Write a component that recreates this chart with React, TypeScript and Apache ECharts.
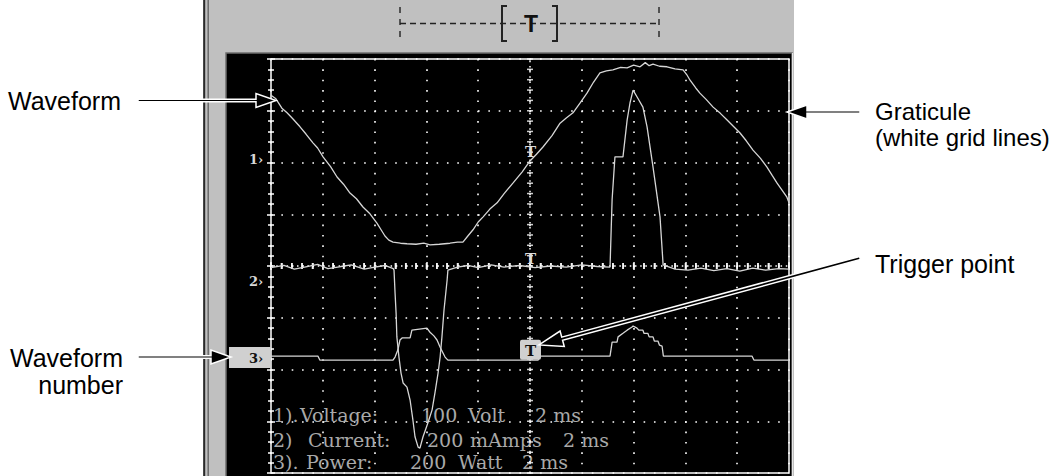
import React, { useEffect, useRef } from 'react';
import * as echarts from 'echarts';

// ---- data (x: time in ms, 2 ms/div; y: vertical divisions, 0 = centre) ----
const voltageTrace: [number, number][] = [
  [0, 3.3], [0.19, 3.23], [0.42, 3.05], [0.62, 2.96], [0.85, 2.84], [1.12, 2.69], [1.35, 2.55], [1.62, 2.38],
  [1.8, 2.28], [2.01, 2.11], [2.3, 1.92], [2.55, 1.72], [2.8, 1.58], [3.05, 1.41], [3.3, 1.3], [3.55, 1.14],
  [3.8, 1.02], [4.09, 0.83], [4.25, 0.7], [4.4, 0.58], [4.55, 0.5], [4.71, 0.46], [5.0, 0.44], [5.25, 0.43],
  [5.6, 0.42], [5.9, 0.44], [6.14, 0.41], [6.5, 0.42], [6.91, 0.44], [7.2, 0.46], [7.41, 0.46], [7.6, 0.58],
  [7.8, 0.7], [8.0, 0.85], [8.19, 0.95], [8.45, 1.1], [8.73, 1.22], [9.0, 1.4], [9.34, 1.6], [9.7, 1.82],
  [10.0, 2.03], [10.25, 2.16], [10.5, 2.3], [10.85, 2.52], [11.16, 2.76], [11.4, 2.86], [11.66, 2.96],
  [11.95, 3.16], [12.2, 3.34], [12.45, 3.55], [12.7, 3.73], [12.95, 3.77], [13.2, 3.79], [13.5, 3.84],
  [13.75, 3.83], [14.0, 3.88], [14.25, 3.85], [14.45, 3.93], [14.6, 3.87], [14.75, 3.9], [15.0, 3.86],
  [15.29, 3.85], [15.6, 3.81], [15.91, 3.79], [16.05, 3.7], [16.18, 3.59], [16.4, 3.44], [16.56, 3.34],
  [16.8, 3.22], [17.07, 3.07], [17.35, 2.95], [17.61, 2.82], [17.85, 2.7], [18.11, 2.57], [18.35, 2.42],
  [18.61, 2.24], [18.9, 2.08], [19.15, 1.91], [19.35, 1.75], [19.54, 1.6], [19.75, 1.45], [19.92, 1.33], [20, 1.22],
];

const currentTrace: [number, number][] = [
  [0, -0.03], [0.5, 0.01], [0.9, -0.06], [1.3, -0.02], [1.8, 0.03], [2.2, -0.05], [2.7, -0.01], [3.1, 0.02],
  [3.6, -0.06], [4.0, -0.02], [4.4, 0.01], [4.72, -0.05],
  [4.75, -0.08], [4.79, -0.52], [4.83, -0.91], [4.86, -1.37], [4.94, -1.76], [5.02, -2.07], [5.1, -2.26],
  [5.25, -2.34], [5.37, -2.59], [5.48, -2.98], [5.56, -3.3], [5.68, -3.5], [5.75, -3.52], [5.87, -3.3],
  [6.06, -3.03], [6.22, -2.78], [6.33, -2.45], [6.45, -2.07], [6.53, -1.76], [6.6, -1.37], [6.68, -0.85],
  [6.8, -0.27], [6.83, -0.08],
  [7.2, -0.02], [7.6, 0.01], [8.0, -0.03], [8.5, 0.02], [9.0, -0.02], [9.6, 0.01], [10.2, -0.03], [10.8, 0.0],
  [11.4, -0.02], [12.0, 0.02], [12.6, -0.01], [13.09, -0.02],
  [13.17, 1.28], [13.28, 2.11], [13.59, 2.11], [13.75, 2.82], [13.86, 3.15], [13.98, 3.4], [14.13, 3.27],
  [14.36, 3.07], [14.52, 2.69], [14.75, 1.91], [15.02, 0.95], [15.14, 0.02],
  [15.6, -0.06], [16.1, -0.08], [16.6, -0.04], [17.1, -0.09], [17.6, -0.05], [18.1, -0.1], [18.6, -0.04],
  [19.1, -0.08], [19.6, -0.05], [20, -0.06],
];

const powerTrace: [number, number][] = [
  [0, -1.74], [1.81, -1.74], [1.89, -1.82], [4.71, -1.82], [4.79, -1.76], [4.9, -1.62], [4.98, -1.43],
  [5.06, -1.39], [5.37, -1.39], [5.44, -1.24], [6.02, -1.2], [6.14, -1.28], [6.29, -1.35], [6.41, -1.43],
  [6.53, -1.57], [6.72, -1.76], [6.83, -1.82], [10.31, -1.82], [10.39, -1.74], [13.09, -1.74], [13.17, -1.47],
  [13.36, -1.47], [13.4, -1.37], [13.59, -1.3], [13.75, -1.24], [13.94, -1.18], [13.98, -1.16], [14.13, -1.2],
  [14.2, -1.24], [14.36, -1.24], [14.4, -1.3], [14.55, -1.3], [14.6, -1.37], [14.75, -1.37], [14.8, -1.45],
  [14.94, -1.45], [15.0, -1.53], [15.1, -1.55], [15.15, -1.74], [18.57, -1.74], [18.65, -1.82], [20, -1.82],
];

// trigger marks: [time, divisions, boxed]
const triggerMarks: [number, number, number][] = [[10, 2.22, 0], [10, 0.15, 0], [10, -1.62, 1]];
const channelLabels = ['1›', '2›', '3›'];
const readoutRows = [
  ['1).', 'Voltage:', '100', 'Volt', '2 ms'],
  ['2)', 'Current:', '200', 'mAmps', '2 ms'],
  ['3).', 'Power:', '200', 'Watt', '2 ms'],
];
const annotationTexts = ['Waveform', 'Graticule\n(white grid lines)', 'Trigger point', 'Waveform\nnumber'];

// ---- layout ----
const readoutX = [
  [273, 300, 421, 468, 535],
  [273, 308, 427, 470, 563],
  [273, 306, 410, 458, 522],
];
const readoutY = [415, 440, 462];

function arrow(x1: number, y1: number, x2: number, y2: number, sw = 1.3, hl = 20, hw = 7) {
  const dx = x2 - x1, dy = y2 - y1;
  const L = Math.hypot(dx, dy);
  const ux = dx / L, uy = dy / L, nx = -uy, ny = ux;
  const bx = x2 - ux * hl, by = y2 - uy * hl;
  return {
    type: 'polygon',
    z: 100,
    shape: {
      points: [
        [x1 + nx * sw, y1 + ny * sw], [bx + nx * sw, by + ny * sw], [bx + nx * hw, by + ny * hw], [x2, y2],
        [bx - nx * hw, by - ny * hw], [bx - nx * sw, by - ny * sw], [x1 - nx * sw, y1 - ny * sw],
      ],
    },
    style: { fill: '#000', stroke: '#fff', lineWidth: 1.5 },
  };
}

function gridTicks() {
  const h: [number, number][] = [];
  for (let i = 0; i <= 50; i++) h.push([i * 0.4, 0]);
  const v: [number, number][] = [];
  for (let j = 0; j <= 40; j++) v.push([10, -4 + j * 0.2]);
  return { h, v };
}

export default function App() {
  const ref = useRef<HTMLDivElement>(null);
  useEffect(() => {
    if (!ref.current) return;
    const chart = echarts.init(ref.current, undefined, { renderer: 'svg' });
    const ticks = gridTicks();
    const traceStyle = { color: '#d6d6d6', width: 1.3 };
    const tickCommon = {
      axisLine: { show: false },
      axisLabel: { show: false },
      axisTick: { show: true, inside: true, length: 4, lineStyle: { color: '#fff', width: 1.5 } },
      minorTick: { show: true, splitNumber: 5, length: 3, lineStyle: { color: '#fff', width: 1.5 } },
    };
    const sans = "'Liberation Sans', Arial, sans-serif";
    const serif = "'DejaVu Serif', serif";
    const graphic: any[] = [
      // panel
      { type: 'rect', z: -20, shape: { x: 203, y: 0, width: 591, height: 476 }, style: { fill: '#c0c0c0' } },
      { type: 'line', z: -19, shape: { x1: 204.2, y1: 0, x2: 204.2, y2: 476 }, style: { stroke: '#2a2a2a', lineWidth: 2 } },
      { type: 'line', z: -19, shape: { x1: 208.2, y1: 0, x2: 208.2, y2: 476 }, style: { stroke: '#6a6a6a', lineWidth: 1.5 } },
      { type: 'rect', z: -18, shape: { x: 226, y: 53, width: 566, height: 430 }, style: { fill: '#000', stroke: '#6e6e6e', lineWidth: 1.5 } },
      { type: 'line', z: -17, shape: { x1: 792.5, y1: 53, x2: 792.5, y2: 476 }, style: { stroke: '#e6e6e6', lineWidth: 1 } },
      // top trigger bar
      { type: 'line', z: 10, shape: { x1: 400, y1: 23.5, x2: 659, y2: 23.5 }, style: { stroke: '#222', lineWidth: 1.4, lineDash: [6, 4] } },
      { type: 'line', z: 10, shape: { x1: 400, y1: 7, x2: 400, y2: 40 }, style: { stroke: '#222', lineWidth: 1.4, lineDash: [6, 6] } },
      { type: 'line', z: 10, shape: { x1: 659, y1: 7, x2: 659, y2: 40 }, style: { stroke: '#222', lineWidth: 1.4, lineDash: [6, 6] } },
      { type: 'polyline', z: 10, shape: { points: [[507, 6], [502, 6], [502, 41], [507, 41]] }, style: { stroke: '#222', lineWidth: 2, fill: 'none' } },
      { type: 'polyline', z: 10, shape: { points: [[552, 6], [557, 6], [557, 41], [552, 41]] }, style: { stroke: '#222', lineWidth: 2, fill: 'none' } },
      { type: 'text', z: 11, x: 531, y: 24, style: { text: 'T', fontFamily: sans, fontWeight: 'bold', fontSize: 23, fill: '#111', textAlign: 'center', textVerticalAlign: 'middle' } },
      // channel labels
      { type: 'text', z: 5, x: 249, y: 159, style: { text: channelLabels[0], fontFamily: serif, fontWeight: 'bold', fontSize: 13, fill: '#d8d8d8', textVerticalAlign: 'middle' } },
      { type: 'text', z: 5, x: 249, y: 281, style: { text: channelLabels[1], fontFamily: serif, fontWeight: 'bold', fontSize: 13, fill: '#d8d8d8', textVerticalAlign: 'middle' } },
      { type: 'rect', z: 5, shape: { x: 229, y: 347, width: 42, height: 21 }, style: { fill: '#d0d0d0' } },
      { type: 'text', z: 6, x: 249, y: 358, style: { text: channelLabels[2], fontFamily: serif, fontWeight: 'bold', fontSize: 13, fill: '#111', textVerticalAlign: 'middle' } },
      // annotations
      { type: 'text', z: 100, x: 8, y: 101, style: { text: annotationTexts[0], fontFamily: sans, fontSize: 25, fill: '#000', textVerticalAlign: 'middle' } },
      { type: 'text', z: 100, x: 875, y: 124, style: { text: annotationTexts[1], fontFamily: sans, fontSize: 24, lineHeight: 26, fill: '#000', textVerticalAlign: 'middle' } },
      { type: 'text', z: 100, x: 875, y: 264, style: { text: annotationTexts[2], fontFamily: sans, fontSize: 25, fill: '#000', textVerticalAlign: 'middle' } },
      { type: 'text', z: 100, x: 123, y: 371, style: { text: annotationTexts[3], fontFamily: sans, fontSize: 25, lineHeight: 27, fill: '#000', textAlign: 'right', textVerticalAlign: 'middle' } },
      arrow(138, 100.5, 276, 100.5),
      arrow(138, 357, 231, 357),
      arrow(860, 112, 787, 112, 1.3, 20, 7),
      arrow(860, 258, 539, 345, 1.6, 24, 8),
    ];
    readoutRows.forEach((row, r) => {
      row.forEach((t, c) => {
        graphic.push({
          type: 'text', z: 1, x: readoutX[r][c], y: readoutY[r],
          style: { text: t, fontFamily: serif, fontSize: 19, fill: '#a9a9a9', textVerticalAlign: 'middle' },
        });
      });
    });

    chart.setOption({
      animation: false,
      backgroundColor: '#ffffff',
      grid: { left: 271, top: 59, width: 518, height: 414, show: true, borderColor: '#ffffff', borderWidth: 1.5, backgroundColor: 'transparent' },
      xAxis: [
        { type: 'value', min: 0, max: 20, interval: 2, position: 'bottom', ...tickCommon,
          splitLine: { show: true, lineStyle: { color: '#ffffff', width: 1.6, type: [1.6, 8.75] } } },
        { type: 'value', min: 0, max: 20, interval: 2, position: 'top', ...tickCommon, splitLine: { show: false } },
      ],
      yAxis: [
        { type: 'value', min: -4, max: 4, interval: 1, position: 'left', ...tickCommon,
          splitLine: { show: true, lineStyle: { color: '#ffffff', width: 1.6, type: [1.6, 8.75] } } },
        { type: 'value', min: -4, max: 4, interval: 1, position: 'right', ...tickCommon, splitLine: { show: false } },
      ],
      graphic,
      series: [
        { type: 'line', name: 'centerH', data: [[0, 0], [20, 0]], symbol: 'none', silent: true, z: 1,
          lineStyle: { color: '#ffffff', width: 1.5, type: [1.5, 3.7] } },
        { type: 'line', name: 'centerV', data: [[10, -4], [10, 4]], symbol: 'none', silent: true, z: 1,
          lineStyle: { color: '#ffffff', width: 1.5, type: [1.5, 3.7] } },
        { type: 'scatter', name: 'ticksH', data: ticks.h, symbol: 'rect', symbolSize: [1.5, 6], silent: true, z: 1,
          itemStyle: { color: '#ffffff' } },
        { type: 'scatter', name: 'ticksV', data: ticks.v, symbol: 'rect', symbolSize: [6, 1.5], silent: true, z: 1,
          itemStyle: { color: '#ffffff' } },
        { type: 'line', name: 'Voltage', data: voltageTrace, symbol: 'none', lineStyle: traceStyle, z: 3 },
        { type: 'line', name: 'Current', data: currentTrace, symbol: 'none', lineStyle: traceStyle, z: 3 },
        { type: 'line', name: 'Power', data: powerTrace, symbol: 'none', lineStyle: traceStyle, z: 3 },
        {
          type: 'custom', name: 'Trigger', z: 6, silent: true,
          data: triggerMarks,
          renderItem: (params: any, api: any) => {
            const p = api.coord([api.value(0), api.value(1)]);
            const boxed = api.value(2) === 1;
            const children: any[] = [];
            if (boxed) {
              children.push({ type: 'rect', shape: { x: p[0] - 10, y: p[1] - 10, width: 21, height: 20, r: 2 }, style: { fill: '#d0d0d0' } });
            }
            children.push({
              type: 'text', x: p[0] + 0.5, y: p[1] + 1,
              style: {
                text: 'T', fontFamily: serif, fontWeight: 'bold', fontSize: 15,
                fill: boxed ? '#111' : '#dcdcdc', align: 'center', verticalAlign: 'middle',
              },
            });
            return { type: 'group', children };
          },
        },
      ],
    });
    return () => chart.dispose();
  }, []);
  return <div ref={ref} style={{ position: 'fixed', left: 0, top: 0, width: 1061, height: 476 }} />;
}
